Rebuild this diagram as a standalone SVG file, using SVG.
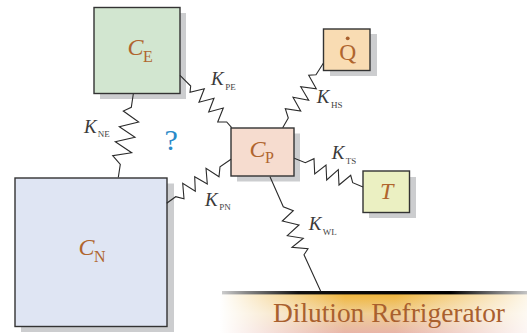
<svg xmlns="http://www.w3.org/2000/svg" width="527" height="333" viewBox="0 0 527 333">
<style>
.box{stroke:#333;stroke-width:1.4}
.sh{fill:#cccdcf}
.wire{fill:none;stroke:#2b2b2b;stroke-width:1.1;stroke-linejoin:miter}
text{font-family:"Liberation Serif","Times New Roman",serif}
.k{font-size:19px;font-style:italic;fill:#3a3a3a}
.ks{font-size:9px;fill:#444}
.c{font-size:24px;font-style:italic;fill:#b0652e}
.cs{font-size:16px;fill:#b0652e}
</style>
<defs>
<linearGradient id="bar" x1="0" x2="1" y1="0" y2="0">
<stop offset="0" stop-color="#ccc"/><stop offset=".08" stop-color="#888"/><stop offset=".25" stop-color="#111"/><stop offset=".75" stop-color="#000"/><stop offset=".9" stop-color="#777"/><stop offset="1" stop-color="#c4c4c4"/>
</linearGradient>
<linearGradient id="glow" x1="0" x2="0" y1="0" y2="1">
<stop offset="0" stop-color="#efb53c"/><stop offset=".5" stop-color="#f0cf94"/><stop offset="1" stop-color="#e8b5a8"/>
</linearGradient>
<linearGradient id="fadeL" x1="0" x2="1" y1="0" y2="0">
<stop offset="0" stop-color="#fff"/><stop offset="1" stop-color="#fff" stop-opacity="0"/>
</linearGradient>
<linearGradient id="fadeR" x1="0" x2="1" y1="0" y2="0">
<stop offset="0" stop-color="#fff" stop-opacity="0"/><stop offset="1" stop-color="#fff" stop-opacity=".88"/>
</linearGradient>
</defs>
<g id="base">
<rect x="220" y="294" width="307" height="39" fill="url(#glow)"/>
<rect x="220" y="294" width="125" height="39" fill="url(#fadeL)"/>
<rect x="395" y="294" width="132" height="39" fill="url(#fadeR)"/>
<rect x="222" y="291" width="305" height="3.4" fill="url(#bar)"/>
<text x="273" y="322" font-size="27.4" fill="#a9602e">Dilution Refrigerator</text>
</g>
<g id="node-CE">
<rect class="sh" x="100" y="13" width="86" height="86"/>
<rect class="box" x="94" y="7.5" width="86" height="86" fill="#d2e6d0"/>
<text class="c" x="127.5" y="55">C</text><text class="cs" x="143" y="62.3">E</text>
</g>
<g id="node-CN">
<rect class="sh" x="21" y="183.5" width="153" height="148.5"/>
<rect class="box" x="15" y="178" width="152" height="148.5" fill="#dfe5f3"/>
<text class="c" x="78.5" y="255">C</text><text class="cs" x="94" y="261.7">N</text>
</g>
<g id="node-CP">
<rect class="sh" x="237" y="133.5" width="63" height="48"/>
<rect class="box" x="231" y="128" width="63" height="48" fill="#f6dccf"/>
<text class="c" x="249.5" y="157">C</text><text class="cs" x="265" y="163.3">P</text>
</g>
<g id="node-Q">
<rect class="sh" x="330" y="34" width="47" height="42"/>
<rect class="box" x="323.5" y="29" width="46.5" height="41.5" fill="#f9dcb3"/>
<text x="347.7" y="60" font-size="23.5" fill="#b0652e" text-anchor="middle">Q</text>
<circle cx="347.7" cy="38.3" r="1.9" fill="#a9602e"/>
</g>
<g id="node-T">
<rect class="sh" x="369" y="177" width="47" height="41"/>
<rect class="box" x="363" y="171" width="46.5" height="41.5" fill="#ebf0c2"/>
<text class="c" x="380" y="199">T</text>
</g>
<g id="connectors">
<polyline class="wire" points="133.3,94 131.3,107.3 123.3,111 138.7,122 119.3,126.7 135,137.3 115.3,141.7 131.7,152.7 112.7,155.7 120.3,164.3 118.3,177.3"/>
<polyline class="wire" points="180,75.3 190.7,86 190,92.3 204.3,88.7 199,102.3 214,98.3 208.7,112 223.3,108 217.7,122 226.7,122 231.7,127.7"/>
<polyline class="wire" points="323.3,63.3 316,74.7 308.7,75.3 316.3,88.7 300.7,86.7 308.7,100.3 293,97.3 300.7,111 285.3,108.7 288.3,118 282.7,127.7"/>
<polyline class="wire" points="294.3,158.3 305.3,162.7 314,158.7 314.7,174 326,165 326.7,180 338.3,169.7 339,185 350.7,175.3 352.7,182.7 363,187"/>
<polyline class="wire" points="270,176.7 283.3,206.7 293.3,210.7 282.3,221 299,225 287.3,235.7 303.3,238.3 292,247.3 308,248.7 304,254.7 320.7,291.3"/>
<polyline class="wire" points="166.7,203.3 175.7,196.7 184,198.7 182.7,183.3 195.3,191.3 194.7,176.7 207.3,184 206,168.3 219,176.7 220,166.7 231,159.3"/>
</g>
<g id="labels">
<text class="k" x="84" y="133">K</text><text class="ks" x="97.7" y="137.3">NE</text>
<text class="k" x="211" y="85">K</text><text class="ks" x="225.3" y="90">PE</text>
<text class="k" x="316.7" y="103.3">K</text><text class="ks" x="331" y="107.7">HS</text>
<text class="k" x="331.7" y="159.3">K</text><text class="ks" x="345.7" y="164.3">TS</text>
<text class="k" x="308.7" y="230.3">K</text><text class="ks" x="322.7" y="234.7">WL</text>
<text class="k" x="205" y="206">K</text><text class="ks" x="219.3" y="210">PN</text>
<text x="164.5" y="150" font-size="30" fill="#2a8ac8">?</text>
</g>
</svg>
